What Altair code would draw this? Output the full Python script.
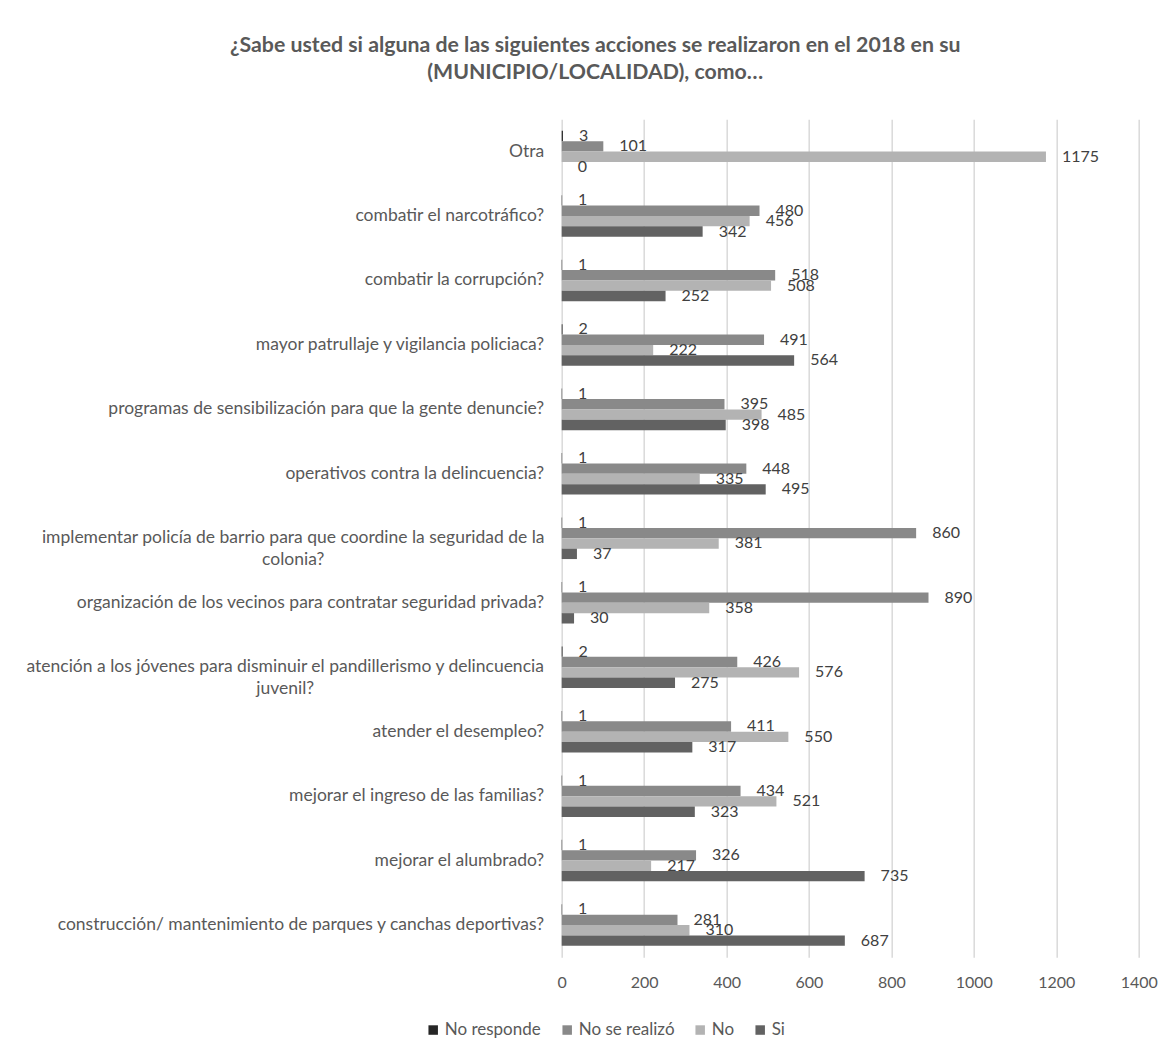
import altair as alt
import pandas as pd

categories = [
    "Otra",
    "combatir el narcotráfico?",
    "combatir la corrupción?",
    "mayor patrullaje y vigilancia policiaca?",
    "programas de sensibilización para que la gente denuncie?",
    "operativos contra la delincuencia?",
    "implementar policía de barrio para que coordine la seguridad de la colonia?",
    "organización de los vecinos para contratar seguridad privada?",
    "atención a los jóvenes para disminuir el pandillerismo y delincuencia juvenil?",
    "atender el desempleo?",
    "mejorar el ingreso de las familias?",
    "mejorar el alumbrado?",
    "construcción/ mantenimiento de parques y canchas deportivas?",
]
series = ["No responde", "No se realizó", "No", "Si"]
no_responde = [3, 1, 1, 2, 1, 1, 1, 1, 2, 1, 1, 1, 1]
no_se_realizo = [101, 480, 518, 491, 395, 448, 860, 890, 426, 411, 434, 326, 281]
no = [1175, 456, 508, 222, 485, 335, 381, 358, 576, 550, 521, 217, 310]
si = [0, 342, 252, 564, 398, 495, 37, 30, 275, 317, 323, 735, 687]
colors = ["#262626", "#898989", "#b3b3b3", "#626262"]
x_ticks = [0, 200, 400, 600, 800, 1000, 1200, 1400]
title_lines = [
    "¿Sabe usted si alguna de las siguientes acciones se realizaron en el 2018 en su",
    "(MUNICIPIO/LOCALIDAD), como…",
]
wrap_impl = ["implementar policía de barrio para que coordine la seguridad de la", "colonia?"]
wrap_aten = ["atención a los jóvenes para disminuir el pandillerismo y delincuencia", "juvenil?"]

rows = []
for s, vals in zip(series, [no_responde, no_se_realizo, no, si]):
    for c, v in zip(categories, vals):
        rows.append({"categoria": c, "serie": s, "valor": v})
df = pd.DataFrame(rows)

FONT = "Lato"
LBL = "#595959"

test_impl = f"datum.value == '{categories[6]}'"
test_aten = f"datum.value == '{categories[8]}'"
label_expr = (
    f"{test_impl} ? ['{wrap_impl[0]}', '{wrap_impl[1]}'] : "
    f"{test_aten} ? ['{wrap_aten[0]}', '{wrap_aten[1]}'] : datum.label"
)

y_enc = alt.Y(
    "categoria:N",
    sort=categories,
    scale=alt.Scale(paddingInner=0.356, paddingOuter=0.178),
    axis=alt.Axis(
        title=None,
        domain=False,
        ticks=False,
        labelExpr=label_expr,
        labelFont=FONT,
        labelFontSize=17.5,
        labelColor=LBL,
        labelLimit=700,
        labelLineHeight=22,
        labelAlign={"condition": {"test": test_impl + " || " + test_aten, "value": "center"}, "value": "right"},
        labelPadding={
            "condition": [
                {"test": test_impl, "value": 269},
                {"test": test_aten, "value": 277},
            ],
            "value": 18,
        },
    ),
)
yoff = alt.YOffset("serie:N", sort=series, scale=alt.Scale(paddingInner=0, paddingOuter=0))
x_enc = alt.X(
    "valor:Q",
    scale=alt.Scale(domain=[0, 1400], nice=False),
    axis=alt.Axis(
        title=None,
        values=x_ticks,
        format="d",
        grid=True,
        gridColor="#d9d9d9",
        gridWidth=1.5,
        domain=False,
        ticks=False,
        labelFlush=False,
        labelFont=FONT,
        labelFontSize=16,
        labelColor=LBL,
        labelPadding=17,
    ),
)

bars = alt.Chart(df).mark_bar().encode(
    x=x_enc,
    y=y_enc,
    yOffset=yoff,
    color=alt.Color(
        "serie:N",
        sort=series,
        scale=alt.Scale(domain=series, range=colors),
        legend=alt.Legend(
            title=None,
            orient="none",
            direction="horizontal",
            legendX=-137,
            legendY=902,
            symbolType="square",
            symbolSize=90,
            symbolStrokeWidth=0,
            labelFont=FONT,
            labelFontSize=17,
            labelColor=LBL,
            labelOffset=3,
            columnPadding=17,
        ),
    ),
)

labels = alt.Chart(df).mark_text(
    align="left", baseline="middle", dx=16, font=FONT, fontSize=16, color="#404040"
).encode(
    x=alt.X("valor:Q"),
    y=alt.Y("categoria:N", sort=categories),
    yOffset=alt.YOffset("serie:N", sort=series),
    text=alt.Text("valor:Q"),
)

chart = (
    alt.layer(bars, labels)
    .properties(
        width=577,
        height=838,
        autosize=alt.AutoSizeParams(type="none"),
        padding={"left": 553.7, "top": 111.3, "right": 25, "bottom": 90},
        title=alt.TitleParams(
            text=title_lines,
            font=FONT,
            fontSize=21.3,
            fontWeight="bold",
            color=LBL,
            anchor="middle",
            frame="bounds",
            lineHeight=27,
            offset=36,
            dx=4,
        ),
    )
    .configure_view(stroke=None)
)

chart.save("out.html", embed_options={"renderer": "svg", "actions": False})
